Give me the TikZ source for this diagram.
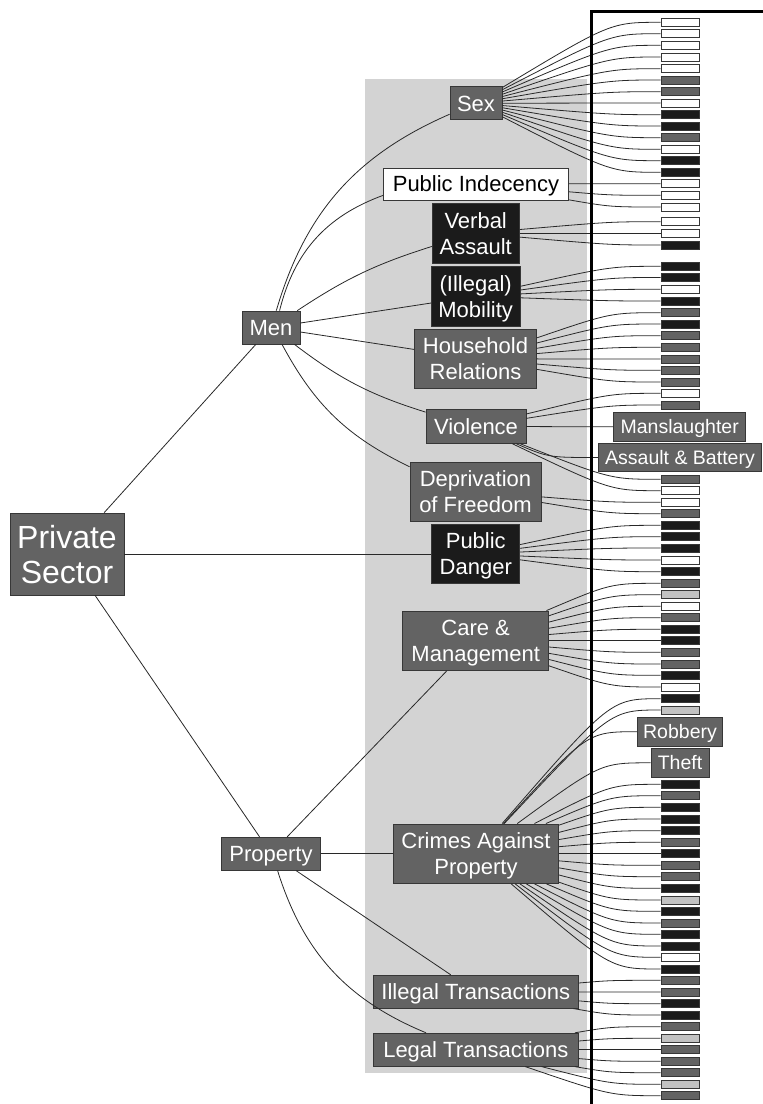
\documentclass[tikz,border=0pt]{standalone}
\usepackage{fontspec}
\setmainfont{Liberation Sans}
\definecolor{catgray}{RGB}{99,99,99}
\definecolor{catblack}{RGB}{27,27,27}
\definecolor{panel}{RGB}{211,211,211}
\definecolor{celllight}{RGB}{194,194,194}
\definecolor{rim}{RGB}{55,55,55}
\definecolor{wire}{RGB}{40,40,40}
\colorlet{cW}{white}
\colorlet{cG}{catgray}
\colorlet{cB}{catblack}
\colorlet{cL}{celllight}

\begin{document}
\begin{tikzpicture}[
    x=1pt, y=-1pt,
    cat/.style={rectangle, draw=rim, fill=catgray, text=white, line width=0.8pt, inner sep=0pt, align=center, font=\fontsize{22}{26}\selectfont, minimum height=33pt, text height=15.8pt, text depth=0pt},
    tall/.style={minimum height=59.5pt, text height=, text depth=0pt},
    dark/.style={fill=catblack},
    pale/.style={fill=white, text=black},
    tag/.style={cat, font=\fontsize{19.5}{22}\selectfont, minimum height=28.5pt, text height=14pt},
    cell/.style={rectangle, draw=rim, line width=0.8pt, inner sep=0pt, minimum width=38pt, minimum height=8pt},
    link/.style={draw=wire, line width=0.8pt},
    rimline/.style={draw=black, line width=3pt}
]
    \useasboundingbox (0,0) rectangle (763,1104);
    \fill[panel] (365,79) rectangle (586.5,1073);

    \node[cat, tall, font=\fontsize{32}{35}\selectfont, minimum width=114pt, minimum height=82pt] (ps) at (67,554) {Private\\Sector};
    \node[cat, minimum width=58pt] (men) at (271,327.5) {Men};
    \node[cat, minimum width=99pt] (prop) at (271,853.7) {Property};

    \node[cat, minimum width=52pt] (sex) at (476,103.3) {Sex};
    \node[cat, pale, minimum width=185pt, minimum height=32pt] (pind) at (476,184) {Public Indecency};
    \node[cat, tall, dark, minimum width=87pt] (verbal) at (475.7,233.3) {Verbal\\Assault};
    \node[cat, tall, dark, minimum width=89pt] (mob) at (475.7,296.2) {(Illegal)\\Mobility};
    \node[cat, tall, minimum width=122pt] (house) at (475.5,358.8) {Household\\Relations};
    \node[cat, minimum width=100pt, minimum height=34pt] (viol) at (476,426.3) {Violence};
    \node[cat, tall, minimum width=131pt] (depr) at (475.5,491.7) {Deprivation\\of Freedom};
    \node[cat, tall, dark, minimum width=88pt] (danger) at (475.8,554) {Public\\Danger};
    \node[cat, tall, minimum width=146pt] (care) at (475.7,640.7) {Care \&\\Management};
    \node[cat, tall, minimum width=165pt] (crimes) at (476,853.7) {Crimes Against\\Property};
    \node[cat, minimum width=205pt] (illegal) at (475.8,991.7) {Illegal Transactions};
    \node[cat, minimum width=205pt] (legal) at (475.8,1049.7) {Legal Transactions};

    \node[tag, minimum width=132pt] (mansl) at (679.7,426.7) {Manslaughter};
    \node[tag, minimum width=163pt] (battery) at (680,457.5) {Assault \& Battery};
    \node[tag, minimum width=85pt] (robbery) at (680,731.7) {Robbery};
    \node[tag, minimum width=58pt] (theft) at (680,762.8) {Theft};

    \foreach \y/\c [count=\i] in {22.3/W,33.7/W,45.3/W,57/W,68.7/W,80/G,91.7/G,103/W,114.7/B,126/B,137.7/G,149.3/W,160.7/B,172.3/B,183.7/W,195.3/W,207/W,221.7/W,233.3/W,245/B,266.3/B,277.5/B,289.3/W,301/B,312.7/G,324/B,335.7/G,347.3/G,359/G,370.3/G,382/G,393.3/W,405/G,479.3/G,490.7/W,502.3/W,513.7/G,525.3/B,536.7/B,548/B,560/W,571.7/B,583.3/G,594.7/L,606.3/W,617.7/G,629.3/B,640.7/B,652.3/G,664/G,675.3/B,687/W,698.7/B,710/L,784.3/B,795.7/G,807.3/B,819/B,830.7/B,842.3/G,853.7/B,865.3/G,876.7/G,888.3/B,900/L,911.3/B,923/G,934.3/B,946/B,957.3/W,969/B,980.3/G,992/G,1003.7/B,1015/B,1026.7/G,1038.3/L,1049.7/G,1061.3/G,1072.7/G,1084.3/L,1095.7/G}
        \node[cell, fill=c\c] (b\i) at (680,\y) {};

    \draw[link] (ps) -- (men);
    \draw[link] (ps) -- (danger);
    \draw[link] (ps) -- (prop);
    \draw[link] (men) to[bend left=25] (sex);
    \draw[link] (men) to[bend left=28] (pind);
    \draw[link] (men) to[bend left=8] (verbal);
    \draw[link] (men) -- (mob);
    \draw[link] (men) -- (house);
    \draw[link] (men) to[bend right=10] (viol);
    \draw[link] (men) to[bend right=18] (depr);
    \draw[link] (prop) -- (care);
    \draw[link] (prop) -- (crimes);
    \draw[link] (prop) -- (illegal);
    \draw[link] (prop) to[bend right=25] (legal);

    \foreach \k in {1,...,14} \draw[link] (sex) .. controls ([xshift=-50pt]b\k.west) .. (b\k.west);
    \foreach \k in {15,16,17} \draw[link] (pind) .. controls ([xshift=-50pt]b\k.west) .. (b\k.west);
    \foreach \k in {18,19,20} \draw[link] (verbal) .. controls ([xshift=-50pt]b\k.west) .. (b\k.west);
    \foreach \k in {21,...,24} \draw[link] (mob) .. controls ([xshift=-50pt]b\k.west) .. (b\k.west);
    \foreach \k in {25,...,31} \draw[link] (house) .. controls ([xshift=-50pt]b\k.west) .. (b\k.west);
    \foreach \t in {b32,b33,mansl,battery,b34,b35} \draw[link] (viol) .. controls ([xshift=-50pt]\t.west) .. (\t.west);
    \foreach \k in {36,37} \draw[link] (depr) .. controls ([xshift=-50pt]b\k.west) .. (b\k.west);
    \foreach \k in {38,...,42} \draw[link] (danger) .. controls ([xshift=-50pt]b\k.west) .. (b\k.west);
    \foreach \k in {43,...,52} \draw[link] (care) .. controls ([xshift=-50pt]b\k.west) .. (b\k.west);
    \foreach \t in {b53,b54,robbery,theft} \draw[link] (crimes) .. controls ([xshift=-50pt]\t.west) .. (\t.west);
    \foreach \k in {55,...,71} \draw[link] (crimes) .. controls ([xshift=-50pt]b\k.west) .. (b\k.west);
    \foreach \k in {72,...,75} \draw[link] (illegal) .. controls ([xshift=-50pt]b\k.west) .. (b\k.west);
    \foreach \k in {76,...,82} \draw[link] (legal) .. controls ([xshift=-50pt]b\k.west) .. (b\k.west);

    \draw[rimline] (591.7,1110) -- (591.7,11.7) -- (770,11.7);
\end{tikzpicture}
\end{document}
